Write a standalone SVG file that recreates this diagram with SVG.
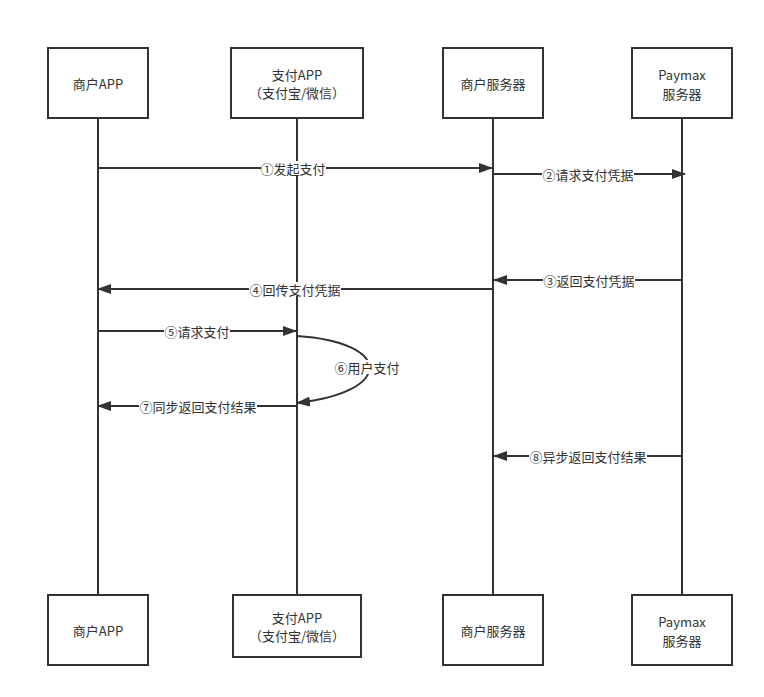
<svg xmlns="http://www.w3.org/2000/svg" width="764" height="697" viewBox="0 0 764 697">
<defs>
<marker id="arr" markerUnits="userSpaceOnUse" markerWidth="14" markerHeight="10" refX="13" refY="5" orient="auto">
<path d="M0,0 L14,5 L0,10 z" fill="#333"/>
</marker>
<style>
.box{fill:#fff;stroke:#333;stroke-width:2}
.life{stroke:#333;stroke-width:2}
.msg{stroke:#333;stroke-width:2;fill:none}
.t{font-family:"Noto Sans CJK SC","Liberation Sans",sans-serif;font-size:13px;fill:#333;text-anchor:middle;dominant-baseline:central}
.bg{fill:#fff}
</style>
</defs>
<rect width="764" height="697" fill="#fff"/>
<g id="lifelines">
<line class="life" x1="98" y1="118" x2="98" y2="595"/>
<line class="life" x1="297" y1="118" x2="297" y2="595"/>
<line class="life" x1="493" y1="118" x2="493" y2="595"/>
<line class="life" x1="682" y1="118" x2="682" y2="595"/>
</g>
<g id="node-merchant-app-top"><rect class="box" x="48" y="48" width="100" height="70"/><text class="t" x="98" y="83">商户APP</text></g>
<g id="node-pay-app-top"><rect class="box" x="231" y="48" width="132" height="70"/><text class="t" x="297" y="74">支付APP</text><text class="t" x="297" y="92">（支付宝/微信）</text></g>
<g id="node-merchant-server-top"><rect class="box" x="443" y="48" width="100" height="70"/><text class="t" x="493" y="83">商户服务器</text></g>
<g id="node-paymax-top"><rect class="box" x="632" y="48" width="100" height="70"/><text class="t" x="682" y="74">Paymax</text><text class="t" x="682" y="93">服务器</text></g>
<g id="node-merchant-app-bottom"><rect class="box" x="48" y="595" width="100" height="70"/><text class="t" x="98" y="630">商户APP</text></g>
<g id="node-pay-app-bottom"><rect class="box" x="233" y="595" width="128" height="62"/><text class="t" x="297" y="617">支付APP</text><text class="t" x="297" y="635">（支付宝/微信）</text></g>
<g id="node-merchant-server-bottom"><rect class="box" x="443" y="595" width="100" height="70"/><text class="t" x="493" y="630">商户服务器</text></g>
<g id="node-paymax-bottom"><rect class="box" x="632" y="595" width="100" height="70"/><text class="t" x="682" y="621">Paymax</text><text class="t" x="682" y="640">服务器</text></g>
<g id="connectors">
<line class="msg" x1="98" y1="168" x2="492" y2="168" marker-end="url(#arr)"/>
<line class="msg" x1="494" y1="174" x2="685" y2="174" marker-end="url(#arr)"/>
<line class="msg" x1="683" y1="280" x2="494" y2="280" marker-end="url(#arr)"/>
<line class="msg" x1="492" y1="289" x2="98" y2="289" marker-end="url(#arr)"/>
<line class="msg" x1="98" y1="331" x2="296" y2="331" marker-end="url(#arr)"/>
<path class="msg" d="M297,336 C392,342 395,392 297,403" marker-end="url(#arr)"/>
<line class="msg" x1="297" y1="406" x2="98" y2="406" marker-end="url(#arr)"/>
<line class="msg" x1="682" y1="456" x2="494" y2="456" marker-end="url(#arr)"/>
<rect class="bg" x="261" y="161" width="65" height="14"/><text class="t" x="293" y="168">①发起支付</text>
<rect class="bg" x="542" y="167" width="92" height="14"/><text class="t" x="588" y="174">②请求支付凭据</text>
<rect class="bg" x="543" y="273" width="92" height="14"/><text class="t" x="589" y="280">③返回支付凭据</text>
<rect class="bg" x="249" y="282" width="92" height="14"/><text class="t" x="295" y="289">④回传支付凭据</text>
<rect class="bg" x="164" y="324" width="66" height="14"/><text class="t" x="197" y="331">⑤请求支付</text>
<rect class="bg" x="334" y="360" width="66" height="14"/><text class="t" x="367" y="367">⑥用户支付</text>
<rect class="bg" x="139" y="399" width="118" height="14"/><text class="t" x="198" y="406">⑦同步返回支付结果</text>
<rect class="bg" x="529" y="449" width="118" height="14"/><text class="t" x="588" y="456">⑧异步返回支付结果</text>
</g>
</svg>
